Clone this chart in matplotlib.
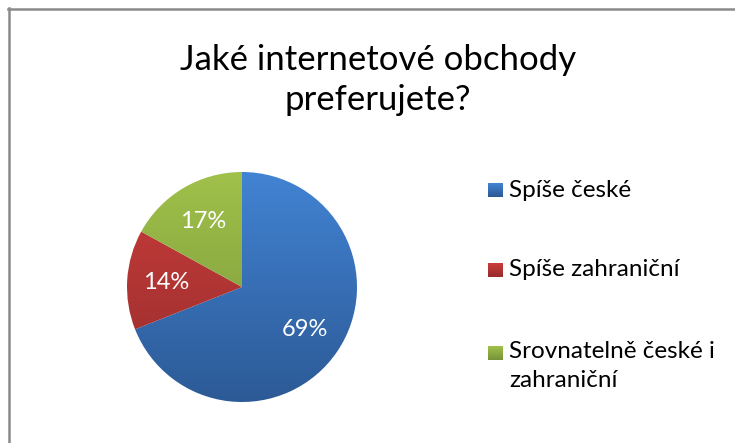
import matplotlib
matplotlib.use("Agg")
import matplotlib.pyplot as plt
import numpy as np
from matplotlib.colors import LinearSegmentedColormap
from matplotlib.lines import Line2D

plt.rcParams['font.family'] = ['Lato', 'DejaVu Sans']

labels = ["Spíše české", "Spíše zahraniční", "Srovnatelně české i\nzahraniční"]
values = [69, 14, 17]
# light (top) -> dark (bottom) for each slice
tops = ["#4283d3", "#c93d3b", "#a0c14a"]
bottoms = ["#2c5a96", "#962d2c", "#77933a"]

W, H = 735, 443
fig = plt.figure(figsize=(W / 100, H / 100), dpi=100, facecolor="white")

# chart frame (only top and left edges show)
fig.add_artist(Line2D([8 / W, 1], [1 - 8.5 / H] * 2, color="#8a8a8a", lw=1.8))
fig.add_artist(Line2D([8.5 / W] * 2, [0, 1 - 8 / H], color="#8a8a8a", lw=1.8))

fig.text(378 / W, 1 - 80 / H, "Jaké internetové obchody\npreferujete?",
         ha="center", va="center", fontsize=25, color="#000000", linespacing=1.27)

cx, cy, r = 242, 287, 115
ax = fig.add_axes([(cx - r) / W, (H - cy - r) / H, 2 * r / W, 2 * r / H])
ax.axis("off")

wedges, _ = ax.pie(values, startangle=90, counterclock=False, radius=1,
                   center=(0, 0), frame=False,
                   wedgeprops=dict(linewidth=0))
grad = np.linspace(1, 0, 256).reshape(-1, 1)
for w, c0, c1 in zip(wedges, tops, bottoms):
    w.set_facecolor("none")
    cmap = LinearSegmentedColormap.from_list("g", [c1, c0])
    im = ax.imshow(grad, cmap=cmap, extent=(-1, 1, -1, 1), aspect="auto",
                   origin="upper", zorder=1)
    im.set_clip_path(w)
ax.set_xlim(-1, 1)
ax.set_ylim(-1, 1)
ax.set_aspect("equal")

total = sum(values)
start = 90.0
for v in values:
    mid = np.deg2rad(start - v / total * 180)
    ax.text(0.66 * np.cos(mid), 0.66 * np.sin(mid), f"{v}%", ha="center",
            va="center", color="white", fontsize=17, zorder=3)
    start -= v / total * 360

# legend
rows = [190, 270, 353]
for lab, y, c0, c1 in zip(labels, rows, tops, bottoms):
    sq = fig.add_axes([488 / W, 1 - (y + 7) / H, 14 / W, 14 / H])
    sq.imshow(np.linspace(0, 1, 32).reshape(-1, 1),
              cmap=LinearSegmentedColormap.from_list("s", [c0, c1]),
              aspect="auto", extent=(0, 1, 0, 1))
    sq.axis("off")
    if "\n" in lab:
        fig.text(509 / W, 1 - (y - 12) / H, lab, ha="left", va="top",
                 fontsize=17.5, color="#000000", linespacing=1.45)
    else:
        fig.text(509 / W, 1 - y / H, lab, ha="left", va="center",
                 fontsize=17.5, color="#000000")

fig.savefig("out.png", dpi=100, facecolor="white")
